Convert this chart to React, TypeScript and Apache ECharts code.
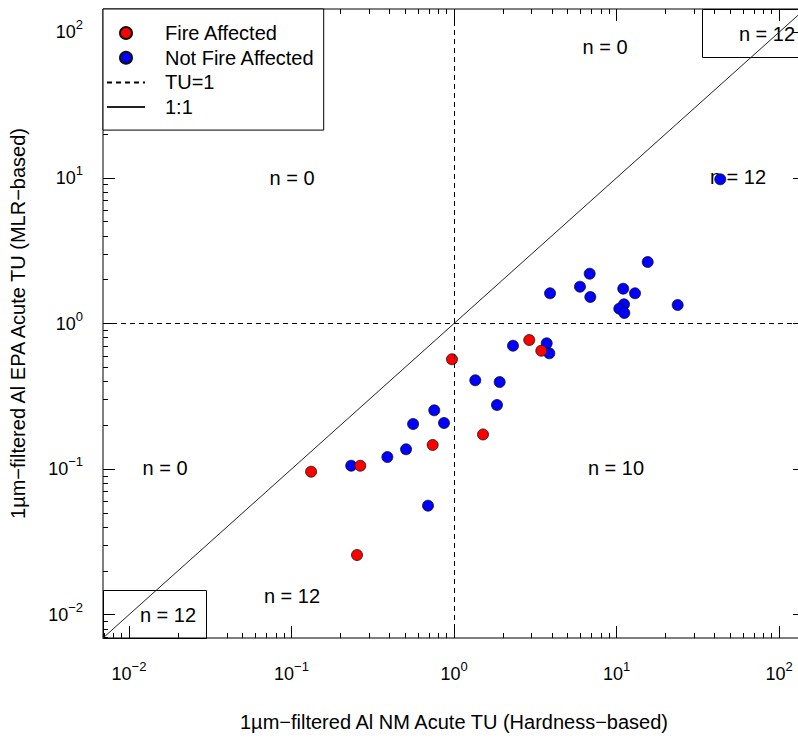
import React, { useEffect, useRef } from "react";
import * as echarts from "echarts";

// ---- data ----
const fireX = [0.132, 0.265, 0.253, 0.739, 0.972, 1.508, 2.905, 3.445];
const fireY = [0.096, 0.1055, 0.0257, 0.1465, 0.568, 0.173, 0.77, 0.65];

const notFireX = [
  0.233, 0.389, 0.507, 0.56, 0.756, 0.868, 0.692, 1.352, 1.91, 1.839, 2.307, 3.72, 3.86,
  3.9, 5.96, 6.84, 6.9, 11.0, 13.0, 11.12, 10.4, 11.17, 15.56, 23.8, 43.5,
];
const notFireY = [
  0.1055, 0.121, 0.1368, 0.204, 0.2534, 0.2073, 0.0561, 0.4074, 0.396, 0.2756, 0.704, 0.731, 0.624,
  1.612, 1.789, 2.198, 1.521, 1.734, 1.612, 1.355, 1.264, 1.181, 2.645, 1.34, 9.78,
];

const tuThreshold = 1;
const oneToOneRange = [0.001, 1000];
const decadeExponents = [-2, -1, 0, 1, 2];
const axisLimits = [0.01, 100]; // R extends each side by 4%
const seriesNames = ["Fire Affected", "Not Fire Affected", "TU=1", "1:1"];
const xTitle = "1\u00b5m\u2212filtered Al NM Acute TU (Hardness\u2212based)";
const yTitle = "1\u00b5m\u2212filtered Al EPA Acute TU (MLR\u2212based)";

const FONT = "Liberation Sans, Arial, sans-serif";
const lg = Math.log10;

export default function App() {
  const ref = useRef<HTMLDivElement>(null);

  useEffect(() => {
    if (!ref.current) return;
    const chart = echarts.init(ref.current, undefined, { renderer: "svg" });

    const lo = lg(axisLimits[0]);
    const hi = lg(axisLimits[1]);
    const pad = (hi - lo) * 0.04;
    const MIN = lo - pad;
    const MAX = hi + pad;

    const major = decadeExponents.slice();
    const minor: number[] = [];
    for (let d = -3; d <= 2; d++) {
      for (let k = 2; k <= 9; k++) {
        const v = d + lg(k);
        if (v > MIN && v < MAX) minor.push(v);
      }
    }

    const fmt = (v: number) => {
      const e = Math.round(v);
      const s = e < 0 ? "\u2212" + Math.abs(e) : String(e);
      return `{b|10}{s|${s}}`;
    };
    const rich = {
      b: { fontSize: 18, fontFamily: FONT, color: "#000" },
      s: { fontSize: 13, fontFamily: FONT, color: "#000", padding: [0, 0, 15, 0] },
    };

    const mkAxis = (
      pos: string,
      isMajor: boolean,
      label: boolean,
      margin: number,
      extra: any = {}
    ) => ({
      type: "value",
      min: MIN,
      max: MAX,
      position: pos,
      axisLine: { show: false, onZero: false },
      splitLine: { show: false },
      axisTick: {
        show: true,
        inside: true,
        length: isMajor ? 12 : 5,
        customValues: isMajor ? major : minor,
        lineStyle: { color: "#000", width: 1 },
      },
      axisLabel: label
        ? { show: true, customValues: major, formatter: fmt, rich, margin }
        : { show: false },
      ...extra,
    });

    const hiddenSymbol = { color: "rgba(0,0,0,0)", borderColor: "rgba(0,0,0,0)", borderWidth: 0, opacity: 0 };

    const option: any = {
      animation: false,
      backgroundColor: "#fff",
      grid: {
        left: 103,
        top: 9,
        width: 702,
        height: 629,
        show: true,
        borderColor: "#000",
        borderWidth: 1,
        backgroundColor: "transparent",
        containLabel: false,
      },
      xAxis: [
        mkAxis("bottom", true, true, 22, {
          name: xTitle,
          nameLocation: "middle",
          nameGap: 74,
          nameTextStyle: { fontSize: 20, fontFamily: FONT, color: "#000" },
        }),
        mkAxis("bottom", false, false, 0),
        mkAxis("top", true, false, 0),
        mkAxis("top", false, false, 0),
      ],
      yAxis: [
        mkAxis("left", true, true, 20, {
          name: yTitle,
          nameLocation: "middle",
          nameGap: 75,
          nameTextStyle: { fontSize: 20, fontFamily: FONT, color: "#000" },
        }),
        mkAxis("left", false, false, 0),
        mkAxis("right", true, false, 0),
        mkAxis("right", false, false, 0),
      ],
      legend: {
        data: [
          { name: seriesNames[0] },
          { name: seriesNames[1] },
          { name: seriesNames[2], itemStyle: hiddenSymbol },
          { name: seriesNames[3], itemStyle: hiddenSymbol },
        ],
        orient: "vertical",
        left: 103,
        top: 9,
        padding: [14, 9, 13, 3],
        itemWidth: 38,
        itemHeight: 12,
        itemGap: 4.7,
        borderColor: "#000",
        borderWidth: 1,
        backgroundColor: "#fff",
        borderRadius: 0,
        textStyle: {
          fontSize: 20,
          fontFamily: FONT,
          color: "#000",
          lineHeight: 20,
          padding: [0, 0, 0, 15],
        },
      },
      graphic: [
        {
          type: "rect",
          z: 1,
          shape: { x: 103.5, y: 590.5, width: 103, height: 48 },
          style: { fill: "none", stroke: "#000", lineWidth: 1 },
        },
        {
          type: "rect",
          z: 1,
          shape: { x: 702.5, y: 9.5, width: 103, height: 48 },
          style: { fill: "none", stroke: "#000", lineWidth: 1 },
        },
        ...[
          { t: "n = 12", x: 168, y: 615 },
          { t: "n = 12", x: 767, y: 34 },
          { t: "n = 0", x: 605, y: 47 },
          { t: "n = 0", x: 292, y: 178 },
          { t: "n = 12", x: 738, y: 177 },
          { t: "n = 0", x: 165, y: 468 },
          { t: "n = 10", x: 616, y: 468 },
          { t: "n = 12", x: 292, y: 596 },
        ].map((a) => ({
          type: "text",
          z: 1,
          x: a.x,
          y: a.y,
          style: {
            text: a.t,
            fontSize: 20,
            fontFamily: FONT,
            fill: "#000",
            textAlign: "center",
            textVerticalAlign: "middle",
          },
        })),
      ],
      series: [
        {
          name: "1:1",
          type: "line",
          xAxisIndex: 0,
          yAxisIndex: 0,
          symbol: "none",
          showSymbol: false,
          clip: true,
          silent: true,
          data: oneToOneRange.map((v) => [lg(v), lg(v)]),
          lineStyle: { color: "#222", width: 1 },
          itemStyle: { color: "#222" },
          z: 3,
        },
        {
          name: "TU=1",
          type: "line",
          xAxisIndex: 0,
          yAxisIndex: 0,
          symbol: "none",
          showSymbol: false,
          data: [],
          lineStyle: { color: "#000", width: 1, type: [5, 4] },
          itemStyle: { color: "#000" },
          markLine: {
            silent: true,
            symbol: ["none", "none"],
            label: { show: false },
            lineStyle: { color: "#000", width: 1, type: [5, 4] },
            data: [{ xAxis: lg(tuThreshold) }, { yAxis: lg(tuThreshold) }],
          },
          z: 3,
        },
        {
          name: "Not Fire Affected",
          type: "scatter",
          xAxisIndex: 0,
          yAxisIndex: 0,
          symbol: "circle",
          symbolSize: 11,
          data: notFireX.map((x, i) => [lg(x), lg(notFireY[i])]),
          itemStyle: { color: "#0000ff", borderColor: "#111", borderWidth: 0.8, opacity: 1 },
          z: 4,
        },
        {
          name: "Fire Affected",
          type: "scatter",
          xAxisIndex: 0,
          yAxisIndex: 0,
          symbol: "circle",
          symbolSize: 11,
          data: fireX.map((x, i) => [lg(x), lg(fireY[i])]),
          itemStyle: { color: "#ff0000", borderColor: "#111", borderWidth: 0.8, opacity: 1 },
          z: 4,
        },
      ],
    };

    chart.setOption(option);
    return () => chart.dispose();
  }, []);

  return (
    <div
      style={{
        position: "absolute",
        left: 0,
        top: 0,
        width: 798,
        height: 738,
        overflow: "hidden",
        background: "#fff",
      }}
    >
      <div ref={ref} style={{ width: 812, height: 738 }} />
    </div>
  );
}
